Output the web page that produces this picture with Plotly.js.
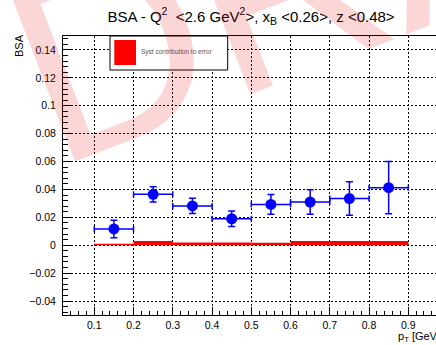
<!DOCTYPE html>
<html>
<head>
<meta charset="utf-8">
<script src="https://cdn.plot.ly/plotly-3.0.1.min.js"></script>
<style>
  html, body { margin: 0; padding: 0; background: #fff; }
  #plot { width: 436px; height: 345px; }
</style>
</head>
<body>
<div id="plot"></div>
<script>
// p_T bins [GeV]: centres and half widths
const ptCenters = [0.15, 0.25, 0.35, 0.45, 0.55, 0.65, 0.75, 0.85];
const ptHalfWidth = [0.05, 0.05, 0.05, 0.05, 0.05, 0.05, 0.05, 0.05];
const binWidth = [0.1, 0.1, 0.1, 0.1, 0.1, 0.1, 0.1, 0.1];

// beam-spin asymmetry with statistical errors
const bsa = [0.0117, 0.0365, 0.0282, 0.0190, 0.0293, 0.0310, 0.0335, 0.0413];
const bsaErr = [0.0063, 0.0055, 0.0055, 0.0055, 0.0070, 0.0088, 0.0120, 0.0188];

// systematic contribution to the error
const syst = [0.0010, 0.0030, 0.0020, 0.0020, 0.0018, 0.0030, 0.0030, 0.0030];

const FONT = '"Liberation Sans", Arial, Helvetica, sans-serif';

// plot frame in pixels
const L = 63, T = 36, B = 30, W = 436, H = 345;
const pw = W - L, ph = H - T - B;
const px = x => (x - L) / pw;
const py = y => (H - B - y) / ph;

const traces = [
  {
    type: 'bar',
    x: ptCenters,
    y: syst,
    width: binWidth,
    base: 0,
    marker: { color: '#ff0000', line: { width: 0 } },
    hoverinfo: 'skip'
  },
  {
    type: 'scatter',
    mode: 'markers',
    x: ptCenters,
    y: bsa,
    marker: { color: '#0000ff', size: 11, symbol: 'circle' },
    error_x: { type: 'data', array: ptHalfWidth, color: '#0000ff', thickness: 1.5, width: 3 },
    error_y: { type: 'data', array: bsaErr, color: '#0000ff', thickness: 1.5, width: 3.5 }
  }
];

const layout = {
  width: W, height: H,
  margin: { l: L, r: 0, t: T, b: B, pad: 0 },
  paper_bgcolor: '#ffffff',
  plot_bgcolor: '#ffffff',
  showlegend: false,
  font: { family: FONT, color: '#000' },
  title: {
    text: 'BSA - Q<sup>2</sup>  &lt;2.6 GeV<sup>2</sup>&gt;, x<sub>B</sub> &lt;0.26&gt;, z &lt;0.48&gt;',
    font: { family: FONT, size: 15, color: '#000' },
    xref: 'container', x: 251 / W, xanchor: 'center',
    yref: 'container', y: 1 - 16.5 / H, yanchor: 'middle'
  },
  xaxis: {
    range: [0.0203, 0.9706],
    tick0: 0, dtick: 0.1,
    ticks: 'inside', ticklen: 8, tickwidth: 1, tickcolor: '#000',
    minor: { dtick: 0.02, ticks: 'inside', ticklen: 4, tickwidth: 1, tickcolor: '#000', showgrid: false },
    showline: true, linecolor: '#000', linewidth: 1, mirror: true,
    showgrid: true, gridcolor: '#000', gridwidth: 1, griddash: '2px,2px',
    zeroline: false,
    tickfont: { family: FONT, size: 10.5, color: '#000' }
  },
  yaxis: {
    range: [-0.05, 0.15],
    tick0: 0, dtick: 0.02,
    ticks: 'inside', ticklen: 9, tickwidth: 1, tickcolor: '#000',
    minor: { dtick: 0.004, ticks: 'inside', ticklen: 5, tickwidth: 1, tickcolor: '#000', showgrid: false },
    showline: true, linecolor: '#000', linewidth: 1, mirror: false,
    showgrid: true, gridcolor: '#000', gridwidth: 1, griddash: '2px,2px',
    zeroline: false,
    ticklabelstandoff: 4,
    tickfont: { family: FONT, size: 10.5, color: '#000' }
  },
  shapes: [
    // legend box
    { type: 'rect', xref: 'paper', yref: 'paper',
      x0: px(110), x1: px(227.7), y0: py(70), y1: py(36),
      line: { color: '#000', width: 1 }, fillcolor: '#ffffff', layer: 'above' },
    { type: 'rect', xref: 'paper', yref: 'paper',
      x0: px(114.3), x1: px(136), y0: py(65), y1: py(40),
      line: { width: 0 }, fillcolor: '#ff0000', layer: 'above' }
  ],
  annotations: [
    { text: 'Syst contribution to error', xref: 'paper', yref: 'paper',
      x: px(139), y: py(52.5), xanchor: 'left', yanchor: 'middle', showarrow: false,
      font: { family: FONT, size: 6.5, color: '#555' } },
    { text: 'BSA', xref: 'paper', yref: 'paper',
      x: px(19), y: py(46), xanchor: 'center', yanchor: 'middle', textangle: -90, showarrow: false,
      font: { family: FONT, size: 11, color: '#000' } },
    { text: 'p<sub>T</sub> [GeV]', xref: 'paper', yref: 'paper',
      x: px(396), y: py(336.5), xanchor: 'left', yanchor: 'middle', showarrow: false,
      font: { family: FONT, size: 11, color: '#000' } },
    // watermark
    { text: 'DRAFT', xref: 'paper', yref: 'paper',
      x: px(427), y: py(-70), xanchor: 'center', yanchor: 'middle', textangle: -21, showarrow: false,
      font: { family: FONT, size: 260, color: 'rgba(230,0,0,0.16)' } }
  ]
};

Plotly.newPlot('plot', traces, layout, { staticPlot: true, displayModeBar: false });
</script>
</body>
</html>
